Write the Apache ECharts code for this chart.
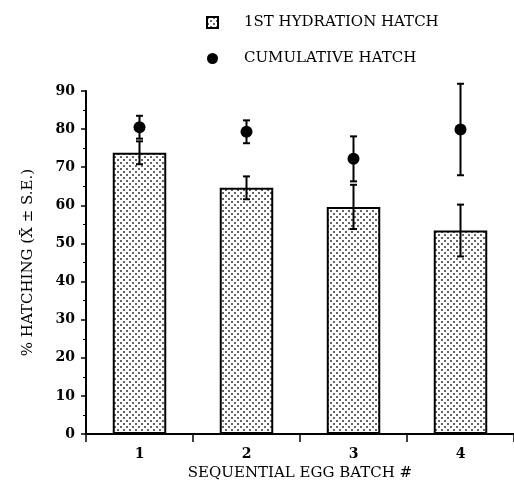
<!DOCTYPE html>
<html>
<head>
<meta charset="utf-8">
<title>Hatching by sequential egg batch</title>
<script src="https://cdn.jsdelivr.net/npm/echarts@6/dist/echarts.min.js"></script>
<style>
    html, body { margin: 0; padding: 0; background: #fff; }
    #main { width: 514px; height: 486px; }
</style>
</head>
<body>
<div id="main"></div>
<script>
    // data
    var batches = ['1', '2', '3', '4'];
    var firstHatch = [73.8, 64.6, 59.6, 53.4];     // 1st hydration hatch, mean
    var firstHatchSE = [3.0, 3.0, 5.8, 6.8];
    var cumHatch = [80.5, 79.3, 72.2, 79.9];       // cumulative hatch, mean
    var cumHatchSE = [3.0, 3.0, 5.9, 12.0];
    var yMin = 0, yMax = 90, yStep = 10;

    var FONT = 'DejaVu Serif';

    // dotted fill like the printed bars
    var pat = document.createElement('canvas');
    pat.width = 6; pat.height = 6;
    var pctx = pat.getContext('2d');
    pctx.fillStyle = '#fff';
    pctx.fillRect(0, 0, 6, 6);
    pctx.fillStyle = '#666';
    pctx.fillRect(0, 0, 2, 2);
    pctx.fillRect(3, 3, 2, 2);

    function errData(mean, se) {
        var out = [];
        for (var i = 0; i < mean.length; i++) {
            out.push([i, mean[i] - se[i], mean[i] + se[i]]);
        }
        return out;
    }

    function errRender(params, api) {
        var x = api.value(0);
        var lo = api.coord([x, api.value(1)]);
        var hi = api.coord([x, api.value(2)]);
        var w = 3.5;
        var st = { stroke: '#000', lineWidth: 2 };
        return {
            type: 'group',
            children: [
                { type: 'line', shape: { x1: lo[0], y1: lo[1], x2: hi[0], y2: hi[1] }, style: st },
                { type: 'line', shape: { x1: lo[0] - w, y1: lo[1], x2: lo[0] + w, y2: lo[1] }, style: st },
                { type: 'line', shape: { x1: hi[0] - w, y1: hi[1], x2: hi[0] + w, y2: hi[1] }, style: st }
            ]
        };
    }

    var myChart = echarts.init(document.getElementById('main'));
    var option = {
        animation: false,
        backgroundColor: '#fff',
        textStyle: { fontFamily: FONT, color: '#000' },
        legend: {
            orient: 'vertical',
            left: 201,
            top: 10,
            itemWidth: 11,
            itemHeight: 11,
            itemGap: 21,
            selectedMode: false,
            textStyle: { fontFamily: FONT, fontSize: 15, color: '#000', padding: [0, 0, 0, 21] },
            data: [
                { name: '1ST HYDRATION HATCH', icon: 'rect' },
                { name: 'CUMULATIVE HATCH', icon: 'circle' }
            ]
        },
        grid: { left: 86, right: 0, top: 91, bottom: 49 },
        xAxis: {
            type: 'category',
            data: batches,
            name: 'SEQUENTIAL EGG BATCH #',
            nameLocation: 'middle',
            nameGap: 30,
            nameTextStyle: { fontFamily: FONT, fontSize: 15, color: '#000' },
            axisLine: { lineStyle: { color: '#000', width: 2 } },
            axisTick: { show: true, length: 8, lineStyle: { color: '#000', width: 1.5 } },
            axisLabel: { fontFamily: FONT, fontSize: 14, fontWeight: 'bold', color: '#000', margin: 13 }
        },
        yAxis: {
            type: 'value',
            min: yMin,
            max: yMax,
            interval: yStep,
            name: '% HATCHING (X\u0304 \u00b1 S.E.)',
            nameLocation: 'middle',
            nameRotate: 90,
            nameGap: 50,
            nameTextStyle: { fontFamily: FONT, fontSize: 15, color: '#000' },
            splitLine: { show: false },
            axisLine: { show: true, lineStyle: { color: '#000', width: 2 } },
            axisTick: { show: true, length: 5, lineStyle: { color: '#000', width: 1.5 } },
            minorTick: { show: true, splitNumber: 2, length: 3, lineStyle: { color: '#000', width: 1 } },
            axisLabel: { fontFamily: FONT, fontSize: 14, fontWeight: 'bold', color: '#000', margin: 11 }
        },
        series: [
            {
                name: '1ST HYDRATION HATCH',
                type: 'bar',
                data: firstHatch,
                barWidth: '50%',
                itemStyle: {
                    color: { image: pat, repeat: 'repeat' },
                    borderColor: '#000',
                    borderWidth: 2
                },
                z: 2
            },
            {
                name: 'hatch err',
                type: 'custom',
                renderItem: errRender,
                data: errData(firstHatch, firstHatchSE),
                encode: { x: 0, y: [1, 2] },
                clip: false,
                z: 3
            },
            {
                name: 'cum err',
                type: 'custom',
                renderItem: errRender,
                data: errData(cumHatch, cumHatchSE),
                encode: { x: 0, y: [1, 2] },
                clip: false,
                z: 3
            },
            {
                name: 'CUMULATIVE HATCH',
                type: 'scatter',
                data: cumHatch,
                symbol: 'circle',
                symbolSize: 12,
                itemStyle: { color: '#000', opacity: 1 },
                z: 4
            }
        ]
    };
    myChart.setOption(option);
</script>
</body>
</html>
